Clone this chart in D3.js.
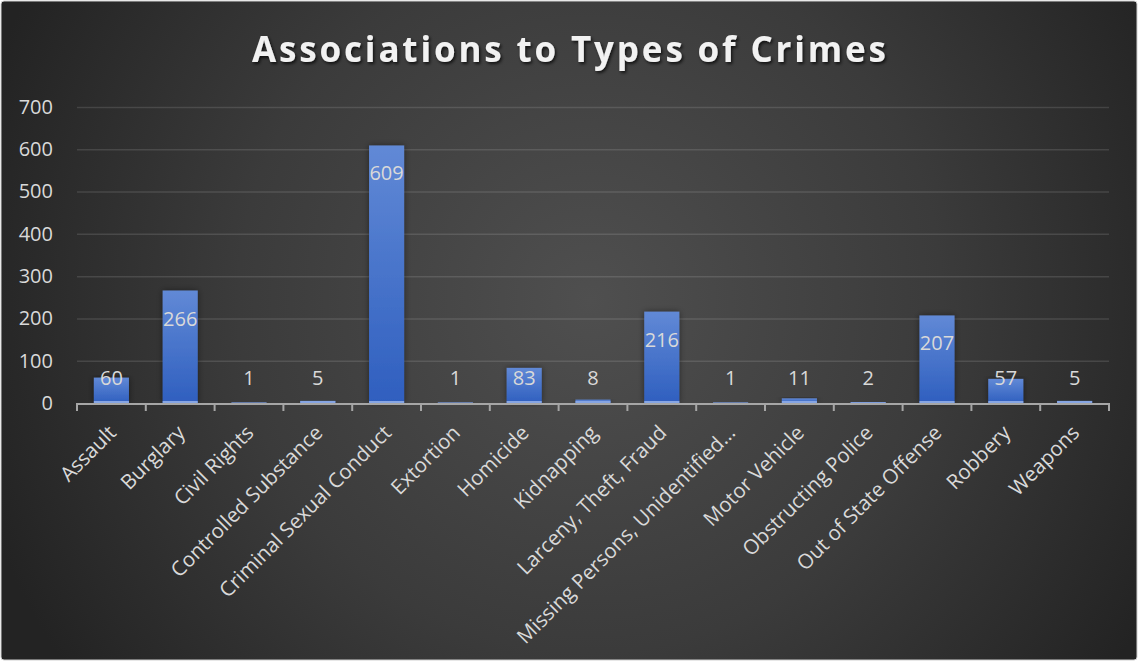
<!DOCTYPE html>
<html>
<head>
<meta charset="utf-8">
<script src="https://cdn.jsdelivr.net/npm/d3@7"></script>
<style>
  html, body { margin: 0; padding: 0; background: #2a2a2a; }
  svg { display: block; }
</style>
</head>
<body>
<svg id="chart" width="1141" height="663"></svg>
<script>
// Crime categories and counts of associations
const categories = [
  "Assault", "Burglary", "Civil Rights", "Controlled Substance",
  "Criminal Sexual Conduct", "Extortion", "Homicide", "Kidnapping",
  "Larceny, Theft, Fraud", "Missing Persons, Unidentified\u2026",
  "Motor Vehicle", "Obstructing Police", "Out of State Offense",
  "Robbery", "Weapons"
];
const counts = [60, 266, 1, 5, 609, 1, 83, 8, 216, 1, 11, 2, 207, 57, 5];
const yTicks = [0, 100, 200, 300, 400, 500, 600, 700];
const titleText = "Associations to Types of Crimes";

const W = 1141, H = 663;
const plot = { left: 77, right: 1109, top: 107, bottom: 403 };

const svg = d3.select("#chart");
const defs = svg.append("defs");

// Background: dark radial gradient, lighter toward the middle
const bg = defs.append("radialGradient").attr("id", "bgGrad")
  .attr("gradientUnits", "userSpaceOnUse")
  .attr("cx", 590).attr("cy", 300).attr("r", 640);
bg.append("stop").attr("offset", "0%").attr("stop-color", "#4f4f4f");
bg.append("stop").attr("offset", "55%").attr("stop-color", "#3b3b3b");
bg.append("stop").attr("offset", "100%").attr("stop-color", "#232323");

// Bar fill: lighter at the top, deeper blue toward the base
const barGrad = defs.append("linearGradient").attr("id", "barGrad")
  .attr("x1", 0).attr("y1", 0).attr("x2", 0).attr("y2", 1);
barGrad.append("stop").attr("offset", "0%").attr("stop-color", "#6189d6");
barGrad.append("stop").attr("offset", "100%").attr("stop-color", "#2f5fbf");

const shadow = defs.append("filter").attr("id", "barShadow")
  .attr("x", "-30%").attr("y", "-10%").attr("width", "160%").attr("height", "120%");
shadow.append("feDropShadow").attr("dx", 0).attr("dy", 0)
  .attr("stdDeviation", 3).attr("flood-color", "#000").attr("flood-opacity", 0.45);

const titleShadow = defs.append("filter").attr("id", "titleShadow")
  .attr("x", "-5%").attr("y", "-30%").attr("width", "110%").attr("height", "160%");
titleShadow.append("feDropShadow").attr("dx", 1.5).attr("dy", 2)
  .attr("stdDeviation", 1.5).attr("flood-color", "#000").attr("flood-opacity", 0.7);

// Chart frame
svg.append("rect").attr("x", 0).attr("y", 0).attr("width", W).attr("height", H)
  .attr("fill", "#ffffff");
svg.append("rect").attr("x", 1).attr("y", 1).attr("width", 1136).attr("height", 659)
  .attr("rx", 3).attr("fill", "url(#bgGrad)")
  .attr("stroke", "#d0d0d0").attr("stroke-width", 1);

// Title
const title = svg.append("text")
  .attr("x", 569).attr("y", 62)
  .attr("text-anchor", "middle")
  .attr("font-family", "'Open Sans', sans-serif")
  .attr("font-weight", 700)
  .attr("font-size", 35)
  .attr("fill", "#f2f2f2")
  .attr("filter", "url(#titleShadow)")
  .text(titleText);
// spread letters so the title spans its intended width
const natural = title.node().getComputedTextLength();
const target = 634;
title.attr("letter-spacing", (target - natural) / (titleText.length - 1));
title.attr("x", 569 + (target - natural) / (titleText.length - 1) / 2);

// Scales
const x = d3.scaleBand().domain(categories)
  .range([plot.left, plot.right]).paddingInner(0.49).paddingOuter(0.245);
const y = d3.scaleLinear().domain([0, 700]).range([plot.bottom, plot.top]);

// Gridlines and value axis labels
const yAxis = d3.axisLeft(y).tickValues(yTicks)
  .tickSize(-(plot.right - plot.left)).tickPadding(24);
const gy = svg.append("g").attr("transform", `translate(${plot.left},0)`).call(yAxis);
gy.select(".domain").remove();
gy.selectAll(".tick line")
  .attr("stroke", "#ffffff").attr("stroke-opacity", 0.12).attr("stroke-width", 1.5);
gy.selectAll(".tick text")
  .attr("fill", "#d9d9d9")
  .attr("font-family", "'Open Sans', sans-serif")
  .attr("font-size", 20);
gy.selectAll(".tick").filter(d => d === 0).select("line").remove();

// Bars
const bars = svg.append("g");
bars.selectAll("rect.bar").data(counts).join("rect").attr("class", "bar")
  .attr("x", (d, i) => x(categories[i]))
  .attr("y", d => y(d))
  .attr("width", x.bandwidth())
  .attr("height", d => y(0) - y(d))
  .attr("fill", "url(#barGrad)")
  .attr("filter", "url(#barShadow)");
// light sheen along the base of each bar
bars.selectAll("rect.base").data(counts).join("rect").attr("class", "base")
  .attr("x", (d, i) => x(categories[i]))
  .attr("y", d => Math.max(y(d), y(0) - 2))
  .attr("width", x.bandwidth())
  .attr("height", d => Math.min(2, y(0) - y(d)))
  .attr("fill", "#86a5e3");

// Category axis with tick marks on band boundaries
const step = x.step();
const boundaries = d3.range(categories.length + 1).map(i => plot.left + i * step);
const axisG = svg.append("g");
axisG.append("line")
  .attr("x1", plot.left).attr("x2", plot.right)
  .attr("y1", plot.bottom + 1).attr("y2", plot.bottom + 1)
  .attr("stroke", "#a6a6a6").attr("stroke-width", 2);
axisG.selectAll("line.tick").data(boundaries).join("line").attr("class", "tick")
  .attr("x1", d => d).attr("x2", d => d)
  .attr("y1", plot.bottom).attr("y2", plot.bottom + 8)
  .attr("stroke", "#a6a6a6").attr("stroke-width", 2);

// Category labels, rotated
svg.append("g").selectAll("text").data(categories).join("text")
  .attr("transform", d => `translate(${x(d) + x.bandwidth() / 2 + 6},${plot.bottom + 31}) rotate(-45)`)
  .attr("text-anchor", "end")
  .attr("font-family", "'Open Sans', sans-serif")
  .attr("font-size", 20.5)
  .attr("fill", "#d9d9d9")
  .text(d => d);

// Value labels: inside the top of tall bars, just above the axis for short ones
svg.append("g").selectAll("text").data(counts).join("text")
  .attr("x", (d, i) => x(categories[i]) + x.bandwidth() / 2)
  .attr("y", d => Math.min(y(d) + 28, 378))
  .attr("dy", "0.35em")
  .attr("text-anchor", "middle")
  .attr("font-family", "'Open Sans', sans-serif")
  .attr("font-size", 20)
  .attr("fill", "#d9d9d9")
  .text(d => d);
</script>
</body>
</html>
